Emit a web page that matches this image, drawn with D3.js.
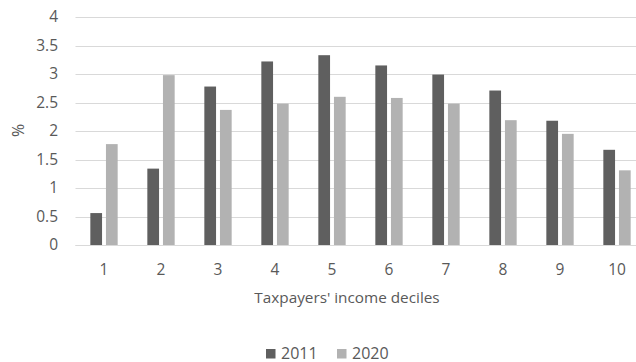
<!DOCTYPE html>
<html>
<head>
<meta charset="utf-8">
<script src="https://cdn.jsdelivr.net/npm/d3@7"></script>
<style>
  html, body { margin: 0; padding: 0; background: #fff; overflow: hidden; }
  svg { display: block; font-family: "Open Sans", "Liberation Sans", sans-serif; }
</style>
</head>
<body>
<svg id="chart" width="636" height="362"></svg>
<script>
// Income deciles and the share (%) for each year
const deciles = ["1", "2", "3", "4", "5", "6", "7", "8", "9", "10"];
const years = ["2011", "2020"];
const values2011 = [0.56, 1.34, 2.78, 3.22, 3.33, 3.15, 2.99, 2.71, 2.18, 1.67];
const values2020 = [1.77, 2.98, 2.37, 2.48, 2.60, 2.58, 2.48, 2.19, 1.95, 1.31];
const yTicks = [0, 0.5, 1, 1.5, 2, 2.5, 3, 3.5, 4];
const yTickLabels = ["0", "0.5", "1", "1.5", "2", "2.5", "3", "3.5", "4"];

const colors = { "2011": "#5f5f5f", "2020": "#b2b2b2" };
const textColor = "#595959";

const svg = d3.select("#chart");
const plot = { left: 75.5, right: 645.5, top: 17, bottom: 245 };

const x = d3.scaleBand().domain(deciles).range([plot.left, plot.right]).paddingInner(0).paddingOuter(0);
const xInner = d3.scaleBand().domain(years).range([0, x.bandwidth()]).paddingInner(0.25).paddingOuter(0.95);
const y = d3.scaleLinear().domain([0, 4]).range([plot.bottom, plot.top]);

// horizontal gridlines
svg.append("g")
  .selectAll("line")
  .data(yTicks)
  .join("line")
  .attr("x1", plot.left)
  .attr("x2", plot.right)
  .attr("y1", d => Math.round(y(d)) + 0.5)
  .attr("y2", d => Math.round(y(d)) + 0.5)
  .attr("stroke", "#d9d9d9")
  .attr("stroke-width", 1);

// y axis labels
const yAxis = d3.axisLeft(y)
  .tickValues(yTicks)
  .tickFormat((d, i) => yTickLabels[i])
  .tickSize(0)
  .tickPadding(0);
const gy = svg.append("g").attr("transform", `translate(${58},0)`).call(yAxis);
gy.select(".domain").remove();
gy.selectAll("text").attr("fill", textColor).style("font-size", "15.5px")
  .style("font-family", "'Open Sans', sans-serif");

// bars
const series = [
  { year: "2011", values: values2011 },
  { year: "2020", values: values2020 }
];
const groups = svg.append("g")
  .selectAll("g")
  .data(deciles)
  .join("g")
  .attr("transform", d => `translate(${x(d)},0)`);

groups.selectAll("rect")
  .data((d, i) => series.map(s => ({ year: s.year, value: s.values[i] })))
  .join("rect")
  .attr("x", d => xInner(d.year))
  .attr("width", xInner.bandwidth())
  .attr("y", d => y(d.value))
  .attr("height", d => y(0) - y(d.value))
  .attr("fill", d => colors[d.year]);

// baseline
svg.append("line")
  .attr("x1", plot.left).attr("x2", plot.right)
  .attr("y1", Math.round(y(0)) + 0.5).attr("y2", Math.round(y(0)) + 0.5)
  .attr("stroke", "#d9d9d9");

// x axis labels
const xAxis = d3.axisBottom(x).tickSize(0).tickPadding(0);
const gx = svg.append("g").attr("transform", `translate(0,0)`).call(xAxis);
gx.select(".domain").remove();
gx.selectAll("text")
  .attr("y", 275).attr("dy", null)
  .attr("fill", textColor).style("font-size", "15.5px")
  .style("font-family", "'Open Sans', sans-serif");

// axis titles
svg.append("text")
  .attr("x", 347).attr("y", 303)
  .attr("text-anchor", "middle")
  .attr("fill", textColor)
  .style("font-size", "15.3px")
  .text("Taxpayers' income deciles");

svg.append("text")
  .attr("transform", `translate(${23.5},${130.5}) rotate(-90)`)
  .attr("text-anchor", "middle")
  .attr("fill", textColor)
  .style("font-size", "16px")
  .text("%");

// legend
const legend = svg.append("g").attr("transform", "translate(266,349)");
const legendItems = legend.selectAll("g")
  .data(years)
  .join("g")
  .attr("transform", (d, i) => `translate(${i * 71},0)`);
legendItems.append("rect")
  .attr("width", 9.5).attr("height", 9.5)
  .attr("fill", d => colors[d]);
legendItems.append("text")
  .attr("x", 15).attr("y", 9.5)
  .attr("fill", textColor)
  .style("font-size", "16px")
  .text(d => d);
</script>
</body>
</html>
